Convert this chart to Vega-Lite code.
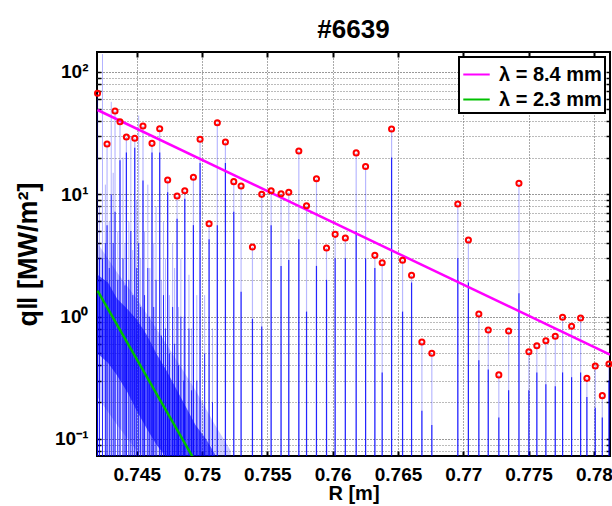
{
  "$schema": "https://vega.github.io/schema/vega-lite/v6.json",
  "width": 513,
  "height": 404,
  "autosize": "none",
  "padding": {"left": 97, "top": 52, "right": 2, "bottom": 50},
  "background": "white",
  "title": {"text": "#6639", "font": "Liberation Sans", "fontSize": 26, "fontWeight": "bold", "color": "black", "offset": 8, "anchor": "middle"},
  "config": {
    "view": {"stroke": "black", "strokeWidth": 2},
    "axis": {
      "labelFont": "Liberation Sans", "labelFontWeight": "bold", "labelFontSize": 19, "labelColor": "black",
      "titleFont": "Liberation Sans", "titleFontWeight": "bold", "titleColor": "black",
      "tickColor": "black", "domain": false
    },
    "legend": {"labelFont": "Liberation Sans", "labelFontWeight": "bold", "labelFontSize": 20, "labelColor": "black"}
  },
  "datasets": {
    "pts": [
      {"R": 0.7420, "q": 67.0, "d": 2},
      {"R": 0.74273, "q": 25.8, "d": 5.6},
      {"R": 0.74334, "q": 48.0, "d": 7.2},
      {"R": 0.74372, "q": 39.2, "d": 19},
      {"R": 0.74421, "q": 29.4, "d": 22},
      {"R": 0.74485, "q": 28.7, "d": 24},
      {"R": 0.74548, "q": 36.2, "d": 13},
      {"R": 0.74617, "q": 26.1, "d": 22},
      {"R": 0.74676, "q": 34.4, "d": 22},
      {"R": 0.74737, "q": 13.1, "d": 10.4},
      {"R": 0.74809, "q": 9.69, "d": 6.3},
      {"R": 0.74868, "q": 10.7, "d": 9.2},
      {"R": 0.74934, "q": 13.8, "d": 5.6},
      {"R": 0.74985, "q": 28.2, "d": 18},
      {"R": 0.75054, "q": 5.75, "d": 4.3},
      {"R": 0.75117, "q": 38.5, "d": 5.6},
      {"R": 0.75179, "q": 26.8, "d": 18},
      {"R": 0.75243, "q": 12.7, "d": 7.2},
      {"R": 0.75299, "q": 11.7, "d": 1.6},
      {"R": 0.75386, "q": 3.71, "d": 0.96},
      {"R": 0.75457, "q": 10.0, "d": 0.83},
      {"R": 0.75529, "q": 10.7, "d": 5.6},
      {"R": 0.75605, "q": 10.1, "d": 2.6},
      {"R": 0.75664, "q": 10.4, "d": 2.9},
      {"R": 0.75741, "q": 22.6, "d": 4.3},
      {"R": 0.75800, "q": 8.07, "d": 1.1},
      {"R": 0.75876, "q": 13.4, "d": 2.6},
      {"R": 0.75953, "q": 3.64, "d": 2},
      {"R": 0.76019, "q": 4.71, "d": 3},
      {"R": 0.76097, "q": 4.40, "d": 3},
      {"R": 0.76180, "q": 21.8, "d": 5},
      {"R": 0.76252, "q": 16.9, "d": 3},
      {"R": 0.76323, "q": 3.17, "d": 2.5},
      {"R": 0.76379, "q": 2.76, "d": 0.35},
      {"R": 0.76451, "q": 34.2, "d": 20},
      {"R": 0.76535, "q": 2.89, "d": 1.1},
      {"R": 0.76604, "q": 2.18, "d": 1.9},
      {"R": 0.76683, "q": 0.621, "d": 0.17},
      {"R": 0.76759, "q": 0.502, "d": 0.13},
      {"R": 0.76958, "q": 8.34, "d": 3},
      {"R": 0.77039, "q": 4.23, "d": 1.9},
      {"R": 0.77119, "q": 1.05, "d": 0.44},
      {"R": 0.77191, "q": 0.778, "d": 0.37},
      {"R": 0.77272, "q": 0.334, "d": 0.15},
      {"R": 0.77347, "q": 0.763, "d": 0.25},
      {"R": 0.77426, "q": 12.3, "d": 1.55},
      {"R": 0.77502, "q": 0.517, "d": 0.25},
      {"R": 0.77563, "q": 0.579, "d": 0.35},
      {"R": 0.77632, "q": 0.636, "d": 0.28},
      {"R": 0.77704, "q": 0.691, "d": 0.27},
      {"R": 0.77760, "q": 0.988, "d": 0.35},
      {"R": 0.77829, "q": 0.834, "d": 0.32},
      {"R": 0.77898, "q": 0.975, "d": 0.35},
      {"R": 0.77946, "q": 0.313, "d": 0.22},
      {"R": 0.78010, "q": 0.395, "d": 0.18},
      {"R": 0.78064, "q": 0.226, "d": 0.15},
      {"R": 0.78115, "q": 0.410, "d": 0.3}
    ],
    "extra": [
      {"R": 0.74215, "q": 8, "d": 3},
      {"R": 0.74238, "q": 140, "d": 3},
      {"R": 0.7426, "q": 12, "d": 4},
      {"R": 0.7429, "q": 6, "d": 2.5},
      {"R": 0.74305, "q": 57, "d": 10},
      {"R": 0.7432, "q": 15, "d": 4},
      {"R": 0.74355, "q": 5, "d": 2},
      {"R": 0.74395, "q": 20, "d": 3},
      {"R": 0.7441, "q": 4, "d": 1.8},
      {"R": 0.7444, "q": 6, "d": 2},
      {"R": 0.74455, "q": 30, "d": 5},
      {"R": 0.7447, "q": 3.5, "d": 1.5},
      {"R": 0.7450, "q": 9, "d": 2.5},
      {"R": 0.74515, "q": 44, "d": 4},
      {"R": 0.7453, "q": 3, "d": 1.2},
      {"R": 0.7456, "q": 5, "d": 1.5},
      {"R": 0.74585, "q": 12, "d": 2.5},
      {"R": 0.7460, "q": 2.5, "d": 1},
      {"R": 0.7463, "q": 4, "d": 1.2},
      {"R": 0.74648, "q": 8, "d": 2},
      {"R": 0.7469, "q": 2, "d": 0.7},
      {"R": 0.74705, "q": 6, "d": 1.5},
      {"R": 0.7472, "q": 3, "d": 0.8},
      {"R": 0.7475, "q": 1.5, "d": 0.5},
      {"R": 0.74775, "q": 4, "d": 1.2},
      {"R": 0.7479, "q": 2.5, "d": 0.6},
      {"R": 0.7482, "q": 1.2, "d": 0.4},
      {"R": 0.74838, "q": 3, "d": 1},
      {"R": 0.7486, "q": 1, "d": 0.3},
      {"R": 0.74900, "q": 2.2, "d": 0.8},
      {"R": 0.7492, "q": 0.8, "d": 0.25},
      {"R": 0.7496, "q": 1.5, "d": 0.3},
      {"R": 0.75020, "q": 1.5, "d": 0.5},
      {"R": 0.7508, "q": 0.8, "d": 0.2}
    ],
    "band": [
      {"R": 0.7420, "hi": 2.2, "lo": 0.5},
      {"R": 0.7428, "hi": 1.9, "lo": 0.42},
      {"R": 0.7435, "hi": 1.4, "lo": 0.33},
      {"R": 0.7443, "hi": 1.15, "lo": 0.24},
      {"R": 0.7450, "hi": 0.95, "lo": 0.17},
      {"R": 0.7458, "hi": 0.7, "lo": 0.12},
      {"R": 0.7465, "hi": 0.5, "lo": 0.09},
      {"R": 0.7473, "hi": 0.36, "lo": 0.07},
      {"R": 0.7480, "hi": 0.26, "lo": 0.06},
      {"R": 0.7488, "hi": 0.18, "lo": 0.06},
      {"R": 0.7495, "hi": 0.13, "lo": 0.06},
      {"R": 0.7503, "hi": 0.1, "lo": 0.06},
      {"R": 0.7510, "hi": 0.075, "lo": 0.06}
    ],
    "halo": [
      {"R": 0.7420, "hi": 4.0, "lo": 0.22},
      {"R": 0.7435, "hi": 2.3, "lo": 0.13},
      {"R": 0.7450, "hi": 1.4, "lo": 0.08},
      {"R": 0.7465, "hi": 0.8, "lo": 0.06},
      {"R": 0.7480, "hi": 0.45, "lo": 0.06},
      {"R": 0.7495, "hi": 0.25, "lo": 0.06},
      {"R": 0.7510, "hi": 0.13, "lo": 0.06},
      {"R": 0.7522, "hi": 0.08, "lo": 0.06}
    ],
    "lines": [
      {"R": 0.742, "q": 48.9, "s": "λ = 8.4 mm"},
      {"R": 0.78123, "q": 0.489, "s": "λ = 8.4 mm"},
      {"R": 0.742, "q": 1.63, "s": "λ = 2.3 mm"},
      {"R": 0.750, "q": 0.0524, "s": "λ = 2.3 mm"}
    ]
  },
  "layer": [
    {
      "data": {"name": "halo"},
      "mark": {"type": "area", "color": "#0000ff", "opacity": 0.2, "clip": true},
      "encoding": {
        "x": {"field": "R", "type": "quantitative", "axis": null, "scale": {"domain": [0.74196, 0.78123], "nice": false, "zero": false}},
        "y": {"field": "hi", "type": "quantitative", "axis": null, "scale": {"type": "log", "domain": [0.0726, 145.7], "nice": false}},
        "y2": {"field": "lo"}
      }
    },
    {
      "data": {"name": "band"},
      "mark": {"type": "area", "color": "#0000ff", "opacity": 0.6, "clip": true},
      "encoding": {
        "x": {"field": "R", "type": "quantitative", "axis": null},
        "y": {"field": "hi", "type": "quantitative", "axis": null},
        "y2": {"field": "lo"}
      }
    },
    {
      "data": {"name": "pts"},
      "mark": {"type": "rule", "color": "#0000ff", "opacity": 0.28, "strokeWidth": 1.2, "clip": true},
      "encoding": {
        "x": {"field": "R", "type": "quantitative", "axis": {
          "values": [0.745, 0.75, 0.755, 0.76, 0.765, 0.77, 0.775, 0.78],
          "format": "~g", "title": "R [m]", "titleFontSize": 20, "titlePadding": -1,
          "grid": true, "gridColor": "#555", "gridDash": [1, 2], "gridWidth": 1,
          "tickSize": -5, "tickWidth": 2, "labelPadding": 14
        }},
        "y": {"field": "q", "type": "quantitative", "axis": {
          "values": [0.08, 0.09, 0.1, 0.2, 0.3, 0.4, 0.5, 0.6, 0.7, 0.8, 0.9, 1, 2, 3, 4, 5, 6, 7, 8, 9, 10, 20, 30, 40, 50, 60, 70, 80, 90, 100],
          "labelExpr": "datum.value == 100 ? '10²' : datum.value == 10 ? '10¹' : datum.value == 1 ? '10⁰' : datum.value == 0.1 ? '10⁻¹' : ''",
          "title": "q‖ [MW/m²]", "titleFontSize": 27, "titlePadding": 12,
          "grid": true,
          "gridColor": {"condition": {"test": "indexof([0.1, 1, 10, 100], datum.value) >= 0", "value": "#333"}, "value": "#777"},
          "gridDash": [1, 2], "gridWidth": 1,
          "tickSize": -4, "tickWidth": 1.5, "labelPadding": 13
        }},
        "y2": {"datum": 0.05}
      }
    },
    {
      "data": {"name": "pts"},
      "mark": {"type": "rule", "color": "#0000ff", "opacity": 0.8, "strokeWidth": 1.2, "clip": true},
      "encoding": {
        "x": {"field": "R", "type": "quantitative", "axis": null},
        "y": {"field": "d", "type": "quantitative", "axis": null},
        "y2": {"datum": 0.05}
      }
    },
    {
      "data": {"name": "extra"},
      "mark": {"type": "rule", "color": "#0000ff", "opacity": 0.3, "strokeWidth": 1, "clip": true},
      "encoding": {
        "x": {"field": "R", "type": "quantitative", "axis": null},
        "y": {"field": "q", "type": "quantitative", "axis": null},
        "y2": {"datum": 0.05}
      }
    },
    {
      "data": {"name": "extra"},
      "mark": {"type": "rule", "color": "#0000ff", "opacity": 0.8, "strokeWidth": 1, "clip": true},
      "encoding": {
        "x": {"field": "R", "type": "quantitative", "axis": null},
        "y": {"field": "d", "type": "quantitative", "axis": null},
        "y2": {"datum": 0.05}
      }
    },
    {
      "data": {"name": "lines"},
      "mark": {"type": "line", "strokeWidth": 2.5, "clip": true},
      "encoding": {
        "x": {"field": "R", "type": "quantitative", "axis": {
          "orient": "top", "values": [0.745, 0.75, 0.755, 0.76, 0.765, 0.77, 0.775, 0.78],
          "labels": false, "title": null, "grid": false, "tickSize": -5, "tickWidth": 2
        }},
        "y": {"field": "q", "type": "quantitative", "axis": {
          "orient": "right",
          "values": [0.08, 0.09, 0.1, 0.2, 0.3, 0.4, 0.5, 0.6, 0.7, 0.8, 0.9, 1, 2, 3, 4, 5, 6, 7, 8, 9, 10, 20, 30, 40, 50, 60, 70, 80, 90, 100],
          "labels": false, "title": null, "grid": false, "tickSize": -4, "tickWidth": 1.5
        }},
        "color": {"field": "s", "type": "nominal",
          "scale": {"domain": ["λ = 8.4 mm", "λ = 2.3 mm"], "range": ["#ff00ff", "#00c000"]},
          "legend": {"title": null, "orient": "top-right", "offset": 5, "strokeColor": "black", "fillColor": "white",
            "padding": 3, "symbolType": "stroke", "symbolSize": 700, "symbolStrokeWidth": 2, "rowPadding": 0, "labelOffset": 8,
            "encode": {"legend": {"update": {"strokeWidth": {"value": 2}}}}}
        }
      }
    },
    {
      "data": {"name": "pts"},
      "mark": {"type": "point", "shape": "circle", "filled": false, "color": "#ff0000", "strokeWidth": 2, "size": 26, "opacity": 1},
      "encoding": {
        "x": {"field": "R", "type": "quantitative", "axis": null},
        "y": {"field": "q", "type": "quantitative", "axis": null}
      }
    }
  ],
  "resolve": {"axis": {"x": "independent", "y": "independent"}}
}
